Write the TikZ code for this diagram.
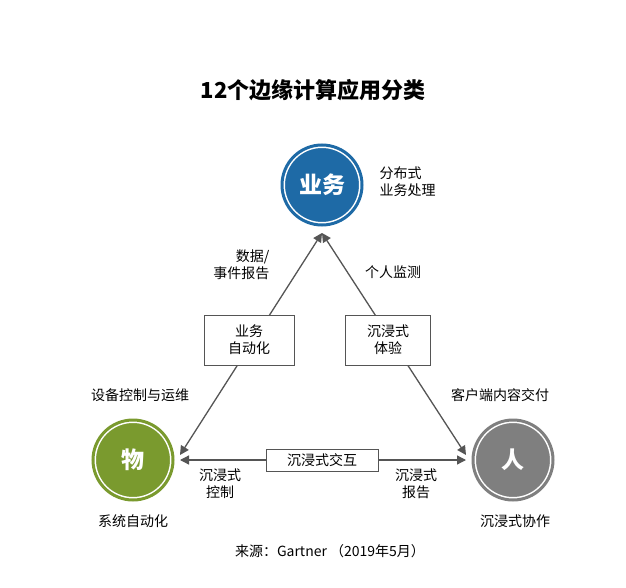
\documentclass[tikz,border=0pt]{standalone}
\usepackage{fontspec}
\setmainfont{Noto Sans CJK SC}
\usetikzlibrary{arrows.meta}
\definecolor{cb}{HTML}{1E6AA6}
\definecolor{cg}{HTML}{7A9A2E}
\definecolor{cy}{HTML}{7F7F7F}
\definecolor{ln}{HTML}{555555}
\begin{document}
\begin{tikzpicture}[x=1pt,y=-1pt,
  circ/.style={circle,minimum size=80pt,inner sep=0pt,draw=white,line width=1.5pt,double=#1,double distance=3pt,fill=#1,text=white,font=\bfseries\fontsize{23}{25}\selectfont},
  box/.style={draw=ln,line width=0.8pt,fill=white,align=center,font=\fontsize{14}{17}\selectfont,inner sep=4pt},
  lab/.style={align=center,font=\fontsize{14}{17}\selectfont,text=black},
  arr/.style={draw=ln,line width=1.3pt,{Triangle[length=9pt,width=9pt]}-{Triangle[length=9pt,width=9pt]}}]
\useasboundingbox[fill=white] (0,0) rectangle (626,588);
\node[font=\bfseries\fontsize{22}{26}\selectfont] (t) at (313,90) {12个边缘计算应用分类};
\node[circ=cb] (b) at (322,185) {业务};
\node[circ=cg] (w) at (133,460) {物};
\node[circ=cy] (r) at (513,460) {人};
\coordinate (bt) at (322,233);
\coordinate (lt) at (180,455);
\coordinate (rt) at (466,455);
\coordinate (l2) at (180,460);
\coordinate (r2) at (466,460);
\draw[arr] (lt) -- (bt);
\draw[arr] (rt) -- (bt);
\draw[arr] (l2) -- (r2);
\node[box,minimum width=90pt,minimum height=50pt] (b1) at (249,340) {业务\\自动化};
\node[box,minimum width=85pt,minimum height=50pt] (b2) at (388,340) {沉浸式\\体验};
\node[box,minimum width=112pt,minimum height=22pt,inner sep=2pt] (b3) at (322,460) {沉浸式交互};
\node[lab,align=left,anchor=west] (l1) at (376,182) {分布式\\业务处理};
\node[lab,align=right,anchor=east] (l2t) at (273,265) {数据/\\事件报告};
\node[lab] (l3) at (393,272) {个人监测};
\node[lab] (l4) at (140,395) {设备控制与运维};
\node[lab] (l5) at (500,395) {客户端内容交付};
\node[lab] (l6) at (220,484) {沉浸式\\控制};
\node[lab] (l7) at (416,484) {沉浸式\\报告};
\node[lab] (l8) at (133,521) {系统自动化};
\node[lab] (l9) at (515,521) {沉浸式协作};
\node[lab] (src) at (330,551) {来源：Gartner （2019年5月）};
\end{tikzpicture}
\end{document}
